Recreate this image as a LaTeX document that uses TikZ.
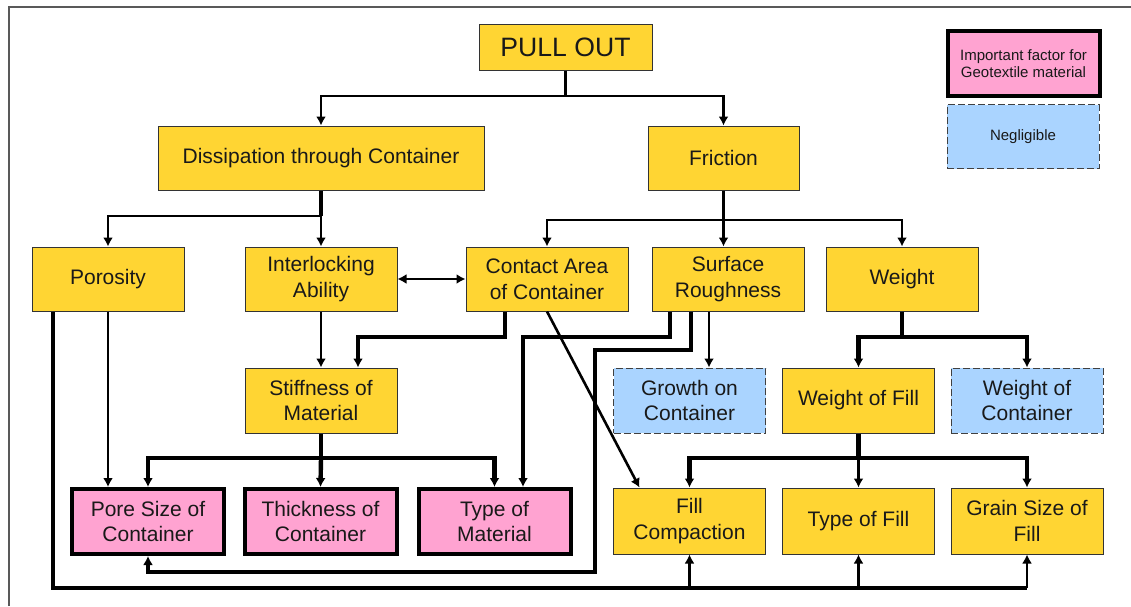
\documentclass[tikz,border=0pt]{standalone}
\usepackage{fontspec}
\setmainfont{Liberation Sans}
\usepackage{tikz}
\usetikzlibrary{arrows.meta}
\definecolor{boxyellow}{RGB}{255,213,51}
\definecolor{boxpink}{RGB}{255,163,209}
\definecolor{boxblue}{RGB}{170,212,255}

\begin{document}
\begin{tikzpicture}[x=0.5pt,y=-0.5pt,>={Latex[length=4.5pt,width=5pt]},
  factor/.style={draw=black!80,line width=0.5pt,fill=boxyellow,text=black!90,align=center,
    inner sep=0pt,minimum width=76pt,minimum height=32pt,font=\fontsize{10.5}{12.8}\selectfont},
  geotex/.style={factor,draw=black,line width=2pt,fill=boxpink,minimum height=32.5pt},
  negl/.style={factor,draw=black!75,dash pattern=on 3.5pt off 1.5pt,fill=boxblue},
  conn/.style={line width=1.3pt},
  bus/.style={line width=2.2pt}]
\useasboundingbox (0,0) rectangle (1131,606);
\draw [black!65,line width=0.8pt] (9,606) -- (9,7) -- (1131,7);

% boxes
\node[factor,minimum width=86.5pt,minimum height=23pt,font=\fontsize{13.3}{16}\selectfont] (pull) at (565.5,47) {PULL OUT};
\node[factor,minimum width=163pt] (diss) at (321,158) {Dissipation through Container};
\node[factor,minimum width=75.5pt] (fric) at (723.5,158) {Friction};

\node[factor] (poro) at (108,279) {Porosity};
\node[factor] (inter) at (321,279) {Interlocking\\Ability};
\node[factor,minimum width=81pt] (contact) at (547,279) {Contact Area\\of Container};
\node[factor] (surf) at (728,279) {Surface\\Roughness};
\node[factor] (weight) at (902,279) {Weight};

\node[factor,minimum height=32.5pt] (stiff) at (321,400.5) {Stiffness of\\Material};
\node[negl,minimum height=32.5pt] (growth) at (689.5,400.5) {Growth on\\Container};
\node[factor,minimum height=32.5pt] (wfill) at (858.5,400.5) {Weight of Fill};
\node[negl,minimum height=32.5pt] (wcont) at (1027,400.5) {Weight of\\Container};

\node[geotex] (pore) at (148,521.5) {Pore Size of\\Container};
\node[geotex] (thick) at (320.5,521.5) {Thickness of\\Container};
\node[geotex] (typemat) at (494.5,521.5) {Type of\\Material};
\node[factor,minimum height=33pt] (fillc) at (689.5,521) {Fill\\Compaction};
\node[factor,minimum height=33pt] (typefill) at (858.5,521) {Type of Fill};
\node[factor,minimum height=33pt] (grain) at (1027,521) {Grain Size of\\Fill};

% legend
\node[geotex,font=\fontsize{7.5}{8.8}\selectfont] (keygeo) at (1023.5,63.5) {Important factor for\\Geotextile material};
\node[negl,font=\fontsize{7.5}{8.8}\selectfont] (keyneg) at (1023,136.5) {Negligible};

% junctions
\coordinate (pb) at (565.5,96);
\coordinate (db) at (321,216);
\coordinate (fb) at (723.5,220);
\coordinate (cs) at (358,337);
\coordinate (st) at (523,337);
\coordinate (sp1) at (595,350);
\coordinate (sp2) at (148,572);
\coordinate (sg) at ([xshift=-9.5pt]surf.south);
\coordinate (sb) at (321,458);
\coordinate (wb) at (902,337);
\coordinate (fb2) at (858.5,458);
\coordinate (pl) at (1027,588);

% pull out
\draw [conn] (pull.south) -- (pb);
\draw [conn,->] (pb) -| (diss.north);
\draw [conn,->] (pb) -| (fric.north);
% dissipation
\draw [bus] (diss.south) -- (db);
\draw [conn,->] (db) -| (poro.north);
\draw [conn,->] (db) -- (inter.north);
% friction
\draw [conn] (fric.south) -- (fb);
\draw [conn,->] (fb) -| (contact.north);
\draw [conn,->] (fb) -- (fb |- surf.north);
\draw [conn,->] (fb) -| (weight.north);
% second row
\draw [conn,<->] (inter) -- (contact);
\draw [conn,->] (inter) -- (stiff);
\draw [bus,->] ([xshift=-21pt]contact.south) |- (cs) -- (cs |- stiff.north);
\draw [bus,->] ([xshift=-29pt]surf.south) |- (st) -- (st |- typemat.north);
\draw [bus,->] ([xshift=-18.5pt]surf.south) |- (sp1) |- (sp2) -- (pore.south);
\draw [conn,->] (sg) -- (sg |- growth.north);
\draw [conn,->] (contact.south) -- ([xshift=-25pt]fillc.north);
\draw [conn,->] (poro.south) -- (poro.south |- pore.north);
% stiffness
\draw [bus] (stiff.south) -- (sb);
\draw [bus,->] (sb) -| (pore.north);
\draw [bus,->] (sb) -- (thick.north);
\draw [bus,->] (sb) -| (typemat.north);
% weight
\draw [bus] (weight.south) -- (wb);
\draw [bus,->] (wb) -| (wfill.north);
\draw [bus,->] (wb) -| (wcont.north);
\draw [bus] (wfill.south) -- (fb2);
\draw [bus,->] (fb2) -| (fillc.north);
\draw [conn,->] (fb2) -- (typefill.north);
\draw [bus,->] (fb2) -| (grain.north);
% porosity loop
\draw [bus] ([xshift=-27.5pt]poro.south) |- (pl);
\draw [conn,->] (pl) -- (grain.south);
\draw [conn,->] (fillc.south |- pl) -- (fillc.south);
\draw [conn,->] (typefill.south |- pl) -- (typefill.south);
\end{tikzpicture}
\end{document}
